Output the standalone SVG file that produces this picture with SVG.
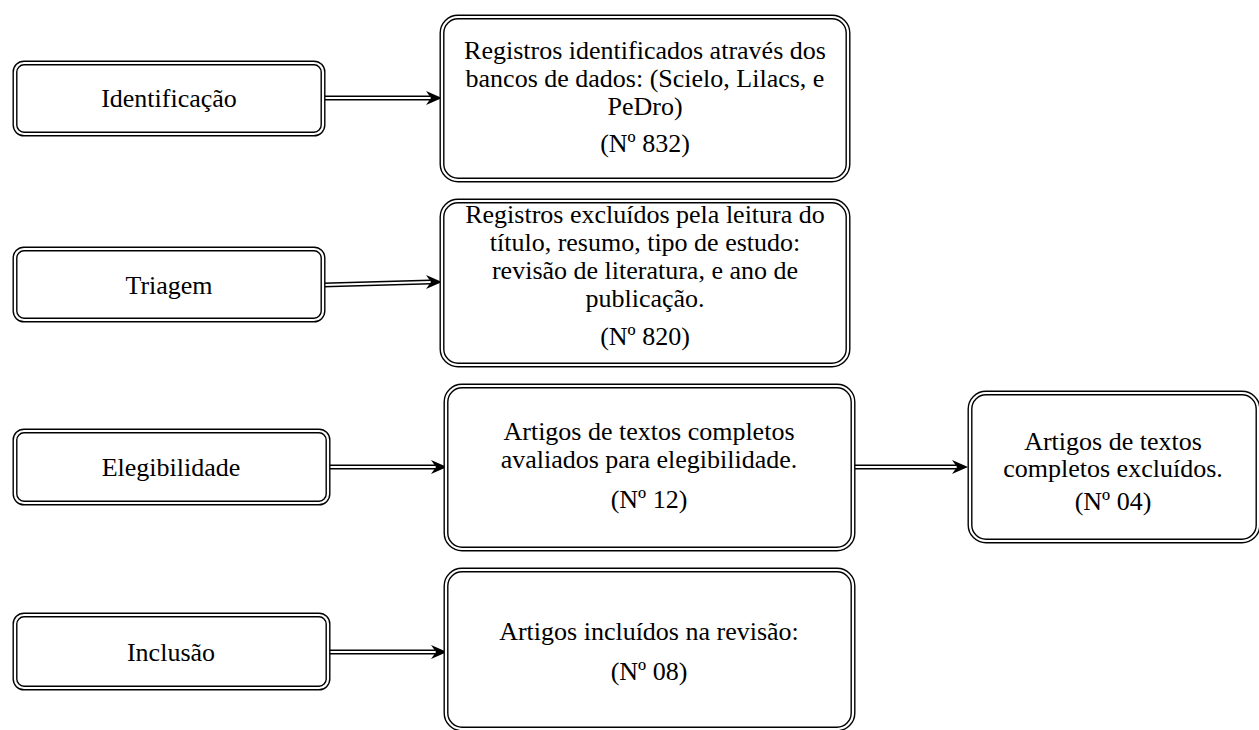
<svg xmlns="http://www.w3.org/2000/svg" width="1259" height="730" viewBox="0 0 1259 730">
<defs>
<style>
.o{fill:#fff;stroke:#000;stroke-width:5}
.i{fill:none;stroke:#fff;stroke-width:2.2}
.so{fill:none;stroke:#000;stroke-width:5}
.si{fill:none;stroke:#fff;stroke-width:2}
.hd{fill:#000}
</style>
<path id="ah" d="M0,0 L-16,-7 L-11,0 L-16,7 Z"/>
</defs>
<rect width="1259" height="730" fill="#fff"/>
<g id="connectors">
<path class="so" d="M323,98 L430,98"/><path class="si" d="M323,98 L431,98"/><use href="#ah" class="hd" x="442" y="98"/>
<path class="so" d="M323,285 L430,282"/><path class="si" d="M323,285 L431,282"/><use href="#ah" class="hd" x="442" y="282"/>
<path class="so" d="M328,467 L435,467"/><path class="si" d="M328,467 L436,467"/><use href="#ah" class="hd" x="447" y="467"/>
<path class="so" d="M328,652 L435,652"/><path class="si" d="M328,652 L436,652"/><use href="#ah" class="hd" x="447" y="652"/>
<path class="so" d="M853,467 L956,467"/><path class="si" d="M853,467 L957,467"/><use href="#ah" class="hd" x="968" y="467"/>
</g>
<g font-family="Liberation Serif, Times New Roman, serif" font-size="26" text-anchor="middle" fill="#000">
<g id="n-identificacao"><rect class="o" x="15" y="63" width="308" height="71" rx="9"/><rect class="i" x="15" y="63" width="308" height="71" rx="9"/><text x="169" y="107">Identificação</text></g>
<g id="n-triagem"><rect class="o" x="15" y="249" width="308" height="71" rx="9"/><rect class="i" x="15" y="249" width="308" height="71" rx="9"/><text x="169" y="294">Triagem</text></g>
<g id="n-elegibilidade"><rect class="o" x="15" y="431" width="313" height="72" rx="9"/><rect class="i" x="15" y="431" width="313" height="72" rx="9"/><text x="171" y="476">Elegibilidade</text></g>
<g id="n-inclusao"><rect class="o" x="15" y="615" width="313" height="73" rx="9"/><rect class="i" x="15" y="615" width="313" height="73" rx="9"/><text x="171" y="661">Inclusão</text></g>
<g id="n-registros-identificados"><rect class="o" x="442" y="17" width="406" height="163" rx="16"/><rect class="i" x="442" y="17" width="406" height="163" rx="16"/>
<text x="645" y="59">Registros identificados através dos</text>
<text x="645" y="87">bancos de dados: (Scielo, Lilacs, e</text>
<text x="645" y="115">PeDro)</text>
<text x="645" y="152">(Nº 832)</text></g>
<g id="n-registros-excluidos"><rect class="o" x="442" y="201" width="406" height="164" rx="16"/><rect class="i" x="442" y="201" width="406" height="164" rx="16"/>
<text x="645" y="223">Registros excluídos pela leitura do</text>
<text x="645" y="251">título, resumo, tipo de estudo:</text>
<text x="645" y="279">revisão de literatura, e ano de</text>
<text x="645" y="307">publicação.</text>
<text x="645" y="345">(Nº 820)</text></g>
<g id="n-avaliados"><rect class="o" x="446" y="386" width="407" height="163" rx="16"/><rect class="i" x="446" y="386" width="407" height="163" rx="16"/>
<text x="649" y="440">Artigos de textos completos</text>
<text x="649" y="468">avaliados para elegibilidade.</text>
<text x="649" y="508">(Nº 12)</text></g>
<g id="n-excluidos"><rect class="o" x="970" y="393" width="288" height="148" rx="16"/><rect class="i" x="970" y="393" width="288" height="148" rx="16"/>
<text x="1113" y="450">Artigos de textos</text>
<text x="1113" y="477">completos excluídos.</text>
<text x="1113" y="510">(Nº 04)</text></g>
<g id="n-incluidos"><rect class="o" x="446" y="570" width="407" height="159" rx="16"/><rect class="i" x="446" y="570" width="407" height="159" rx="16"/>
<text x="649" y="640">Artigos incluídos na revisão:</text>
<text x="649" y="680">(Nº 08)</text></g>
</g>
</svg>
